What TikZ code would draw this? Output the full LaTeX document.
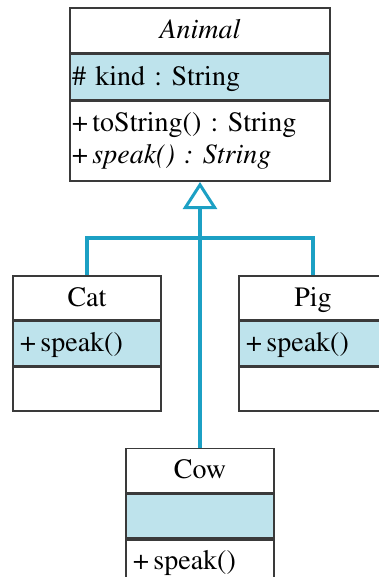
\documentclass[tikz,border=0pt]{standalone}
\usepackage[T1]{fontenc}
\usepackage{times}
\usetikzlibrary{positioning,arrows.meta}
\definecolor{rowblue}{HTML}{BEE3EC}
\definecolor{linkblue}{HTML}{1CA0C4}
\definecolor{boxgray}{HTML}{3A3A3A}
\frenchspacing
\begin{document}
\begin{tikzpicture}[x=1pt,y=-1pt]
	\tikzset{row/.style={draw=boxgray,line width=1.6pt,minimum height=44pt,inner ysep=0pt,align=left,font=\rmfamily\fontsize{28}{32}\selectfont},
		bigrow/.style={row,text width=256pt,inner xsep=2pt},
		smallrow/.style={row,text width=134pt,inner xsep=7pt,text height=20pt,text depth=4pt},
		shaded/.style={fill=rowblue},
		inherit/.style={draw=linkblue,line width=3.4pt}}
	\useasboundingbox (0,0) rectangle (378,577);
	\node[bigrow,align=center,minimum height=45pt,text height=20pt,text depth=4pt] (animal) at (200,30.5) {\textit{Animal}};
	\node[bigrow,shaded,minimum height=45pt,text height=20pt,text depth=4pt,below=0pt of animal] (animalattr) {\# kind : String};
	\node[bigrow,minimum height=80pt,below=0pt of animalattr] (animalops) {+\,toString() : String\\+\,\textit{speak() : String}};
	\node[smallrow,align=center] (cat) at (87,298) {Cat};
	\node[smallrow,shaded,below=0pt of cat] (catattr) {+\,speak()};
	\node[smallrow,below=0pt of catattr] (catops) {};
	\node[smallrow,align=center] (pig) at (313,298) {Pig};
	\node[smallrow,shaded,below=0pt of pig] (pigattr) {+\,speak()};
	\node[smallrow,below=0pt of pigattr] (pigops) {};
	\node[smallrow,align=center] (cow) at (200,470.5) {Cow};
	\node[smallrow,shaded,below=0pt of cow] (cowattr) {};
	\node[smallrow,below=0pt of cowattr] (cowops) {+\,speak()};
	\coordinate (join) at (200,238);
	\draw[inherit] (cat.north) |- (join);
	\draw[inherit] (pig.north) |- (join);
	\draw[inherit,-{Triangle[open,length=27pt,width=34pt,line width=3pt,fill=white]}] (cow.north) -- (animalops.south);
\end{tikzpicture}
\end{document}
